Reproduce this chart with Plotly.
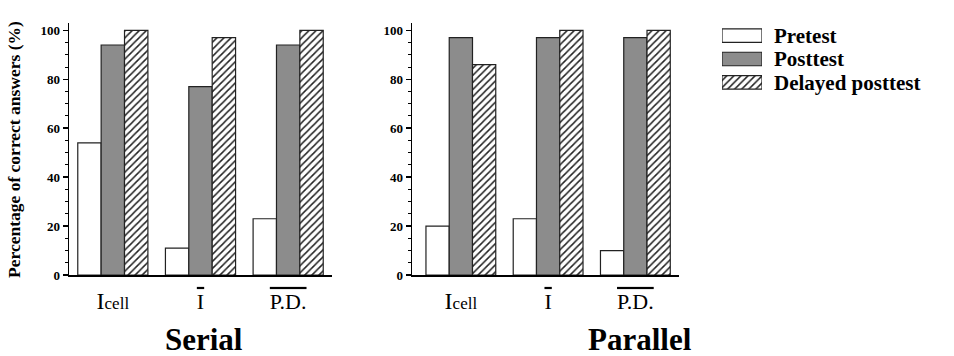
import plotly.graph_objects as go

# ---- data ----
categories = ["Icell", "Ibar", "PDbar"]
tick_labels = [
    "<span style='font-size:24px'>I</span><span style='font-size:17px'>cell</span>",
    "<span style='text-decoration:overline'>I</span>",
    "<span style='text-decoration:overline'>P.D.</span>",
]
series_names = ["Pretest", "Posttest", "Delayed posttest"]
serial_pretest = [54, 11, 23]
serial_posttest = [94, 77, 94]
serial_delayed = [100, 97, 100]
parallel_pretest = [20, 23, 10]
parallel_posttest = [97, 97, 97]
parallel_delayed = [86, 100, 100]
panel_titles = ["Serial", "Parallel"]
y_title = "Percentage of correct answers (%)"
y_tickvals = [0, 20, 40, 60, 80, 100]

W, H = 954, 356
FONT = "Liberation Serif"

styles = [
    dict(color="white", line=dict(color="#222", width=1.2)),
    dict(color="#8c8c8c", line=dict(color="#222", width=1.2)),
    dict(color="white", line=dict(color="#222", width=1.2),
         pattern=dict(shape="/", fgcolor="#222", bgcolor="white", size=5, solidity=0.3)),
]

fig = go.Figure()
panels = [
    ("x", "y", [serial_pretest, serial_posttest, serial_delayed]),
    ("x2", "y2", [parallel_pretest, parallel_posttest, parallel_delayed]),
]
for xa, ya, series in panels:
    for name, vals, st in zip(series_names, series, styles):
        fig.add_trace(go.Bar(
            x=categories, y=vals, name=name, marker=st,
            xaxis=xa, yaxis=ya, showlegend=False, legendgroup=name,
        ))

# legend drawn as a small key panel: one full-width swatch per series
for name, st in zip(series_names, styles):
    fig.add_trace(go.Bar(
        y=[name], x=[1], orientation="h", name=name, marker=st,
        xaxis="x3", yaxis="y3", showlegend=False, hoverinfo="name", width=0.58,
    ))


def px_x(p):
    return p / W


def px_y(p):
    return 1 - p / H


ydom = [px_y(275), px_y(23)]
axis_common_y = dict(
    range=[0, 103], showline=True, linecolor="black", linewidth=1.5,
    ticks="outside", ticklen=5, tickwidth=1.5, tickcolor="black",
    tickmode="array", tickvals=y_tickvals, showgrid=False, zeroline=False, automargin=False,
    tickfont=dict(family=FONT, size=13, color="black", weight="bold"),
    minor=dict(dtick=5, ticks="outside", ticklen=3, tickwidth=1, tickcolor="black", showgrid=False),
    domain=ydom, fixedrange=True,
)
axis_common_x = dict(
    type="category", categoryorder="array", categoryarray=categories,
    tickmode="array", tickvals=categories, ticktext=tick_labels, automargin=False,
    showline=True, linecolor="black", linewidth=1.5, ticks="", ticklabelstandoff=6,
    showgrid=False, tickfont=dict(family=FONT, size=22, color="black"),
)

fig.update_layout(
    template="none",
    width=W, height=H,
    margin=dict(l=0, r=0, t=0, b=0),
    paper_bgcolor="white", plot_bgcolor="white",
    barmode="group", bargap=0.2, bargroupgap=0,
    showlegend=False,
    xaxis=dict(domain=[px_x(69), px_x(332)], range=[-0.5, 2.5], anchor="y", **axis_common_x),
    xaxis2=dict(domain=[px_x(412), px_x(679)], range=[-0.56, 2.5], anchor="y2", **axis_common_x),
    yaxis=dict(anchor="x", **axis_common_y),
    yaxis2=dict(anchor="x2", **axis_common_y),
    xaxis3=dict(domain=[px_x(722), px_x(762)], range=[0, 1], anchor="y3",
                visible=False, fixedrange=True),
    yaxis3=dict(domain=[px_y(94), px_y(24)], anchor="x3", side="right",
                type="category", categoryorder="array", categoryarray=series_names,
                tickmode="array", tickvals=series_names, ticktext=series_names,
                autorange="reversed", showline=False, showgrid=False,
                zeroline=False, ticks="", ticklabelstandoff=11, automargin=False,
                tickfont=dict(family=FONT, size=21, color="black", weight="bold"),
                fixedrange=True),
    font=dict(family=FONT, color="black"),
    annotations=[
        dict(text=y_title, x=px_x(14), y=px_y(150), xref="paper", yref="paper",
             textangle=-90, showarrow=False, xanchor="center", yanchor="middle",
             font=dict(family=FONT, size=17.5, color="black", weight="bold")),
        dict(text=panel_titles[0], x=px_x(204), y=px_y(339), xref="paper", yref="paper",
             showarrow=False, xanchor="center", yanchor="middle",
             font=dict(family=FONT, size=31, color="black", weight="bold")),
        dict(text=panel_titles[1], x=px_x(640), y=px_y(339), xref="paper", yref="paper",
             showarrow=False, xanchor="center", yanchor="middle",
             font=dict(family=FONT, size=31, color="black", weight="bold")),
    ],
)

fig.write_html(
    "out.html",
    config={"displayModeBar": False, "staticPlot": True},
    post_script="document.body.style.margin='0';document.body.style.overflow='hidden';",
)
